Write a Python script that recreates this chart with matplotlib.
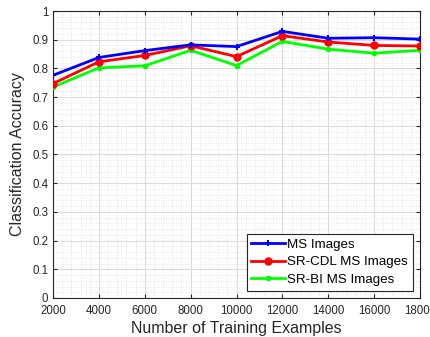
import matplotlib
matplotlib.use("Agg")
import matplotlib.pyplot as plt
from matplotlib.ticker import MultipleLocator, FuncFormatter

plt.rcParams['font.family'] = ['Liberation Sans', 'DejaVu Sans']

train_examples = [2000, 4000, 6000, 8000, 10000, 12000, 14000, 16000, 18000]
ms_images = [0.776, 0.838, 0.862, 0.882, 0.876, 0.929, 0.905, 0.907, 0.902]
sr_cdl = [0.747, 0.823, 0.845, 0.879, 0.841, 0.914, 0.892, 0.880, 0.878]
sr_bi = [0.735, 0.802, 0.809, 0.863, 0.810, 0.894, 0.867, 0.853, 0.863]

fig = plt.figure(figsize=(4.3, 3.37), dpi=100)
ax = fig.add_axes([53/430, 1 - 298/337, (420-53)/430, (298-11)/337])

ax.plot(train_examples, ms_images, color='#0000ff', lw=2, marker='+', ms=5, mew=1.5, label='MS Images', zorder=5)
ax.plot(train_examples, sr_cdl, color='#ff0000', lw=2, marker='o', ms=5, label='SR-CDL MS Images', zorder=4)
ax.plot(train_examples, sr_bi, color='#00ff00', lw=2, marker='.', ms=6, label='SR-BI MS Images', zorder=3)

ax.set_xlim(2000, 18000)
ax.set_ylim(0, 1)
ax.xaxis.set_major_locator(MultipleLocator(2000))
ax.xaxis.set_minor_locator(MultipleLocator(400))
ax.yaxis.set_major_locator(MultipleLocator(0.1))
ax.yaxis.set_minor_locator(MultipleLocator(0.02))
ax.yaxis.set_major_formatter(FuncFormatter(lambda v, p: '%g' % round(v, 2)))
ax.grid(which='major', color='#dcdcdc', lw=0.8, ls='-')
ax.grid(which='minor', color='#dcdcdc', lw=0.6, ls=(0, (1, 2)))
ax.set_axisbelow(True)
ax.tick_params(which='both', direction='in', top=True, right=True, labelsize=8.3, colors='#262626')
ax.tick_params(which='major', length=3)
ax.tick_params(axis='x', which='major', pad=5)
ax.tick_params(which='minor', length=0)
for s in ax.spines.values():
    s.set_color('#262626')
    s.set_linewidth(0.8)

ax.set_xlabel('Number of Training Examples', fontsize=11.5, color='#262626', labelpad=3)
ax.set_ylabel('Classification Accuracy', fontsize=11.5, color='#262626', labelpad=5)

leg = ax.legend(loc='lower right', fontsize=9.6, fancybox=False, edgecolor='#262626',
                framealpha=1, borderpad=0.35, handlelength=2.5, handletextpad=0.2, labelspacing=0.4,
                borderaxespad=0.55)
leg.get_frame().set_linewidth(0.8)

fig.savefig('out.png', dpi=100)
